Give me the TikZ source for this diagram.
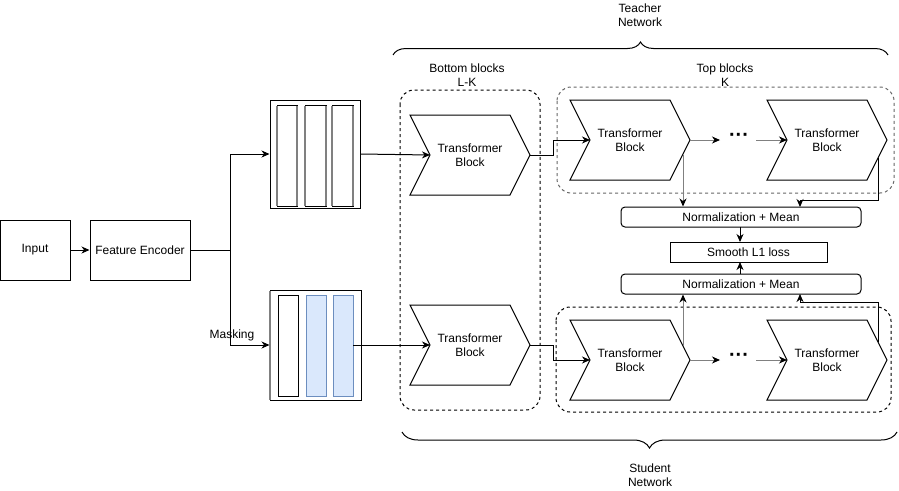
\documentclass[tikz,border=0pt]{standalone}
\usepackage{fontspec}
\setmainfont{Liberation Sans}
\usetikzlibrary{arrows.meta,decorations.pathreplacing,calc}
\definecolor{lgray}{HTML}{808080}
\definecolor{dgray}{HTML}{666666}
\definecolor{bluefill}{HTML}{DAE8FC}
\definecolor{blueline}{HTML}{6C8EBF}
\tikzset{
  box/.style={draw, line width=1pt, inner sep=0pt, align=center},
  rbox/.style={draw, line width=1pt, rounded corners=4pt, inner sep=0pt, align=center},
  conn/.style={line width=1pt, -{Stealth[length=8pt,width=7pt,inset=2.5pt]}},
  gconn/.style={line width=1pt, draw=lgray, -{Stealth[length=8pt,width=7pt,inset=2.5pt,black]}},
  plain/.style={line width=1pt},
  dbox/.style={line width=1pt, dash pattern=on 3pt off 3pt, rounded corners=14pt},
  lbl/.style={align=center, inner sep=0pt},
  chevshape/.style={line width=1pt, fill=white},
}
% chevron block: name, left x, top y
\newcommand\chevblock[3]{%
  \draw[chevshape] (#2,#3) -- ++(100,0) -- ++(20,40) -- ++(-20,40) -- ++(-100,0) -- ++(20,-40) -- cycle;
  \coordinate (#1-tip) at ($(#2,#3)+(120,40)$);
  \coordinate (#1-notch) at ($(#2,#3)+(20,40)$);
  \node[lbl] (#1) at ($(#2,#3)+(60,40)$) {Transformer\\Block};
}
\begin{document}
\begin{tikzpicture}[x=1pt,y=-1pt,font=\fontsize{12}{14.5}\selectfont]
\useasboundingbox (0,0) rectangle (899,490);

% dashed group boxes
\draw[dbox] (400,90) rectangle (540,410);
\draw[dbox, draw=dgray] (557,87) rectangle (894,193);
\draw[dbox] (556,307) rectangle (891,412);

% input and encoder
\node[box, minimum width=70pt, minimum height=60pt] (input) at (35,250) {Input};
\node[box, minimum width=100pt, minimum height=60pt] (enc) at (140,250) {Feature Encoder};

% top stack
\node[box, minimum width=90pt, minimum height=108pt] (stackT) at (315,154) {};
\foreach \x/\w [count=\i] in {277/20,305/21,332/21}{
  \draw[line width=1pt] (\x,105) rectangle ++(\w,101);
  \draw[line width=2pt, lgray] (\x,106) -- (\x,206) (\x+\w,106) -- (\x+\w,206);
}
% bottom stack
\node[box, minimum width=91pt, minimum height=110pt] (stackB) at (315.5,345) {};
\draw[line width=2.5pt, lgray] (270,291) -- (270,400);
\draw[line width=1pt] (278,295) rectangle (298,396);
\draw[line width=1pt, draw=blueline, fill=bluefill] (306,295) rectangle (326,396);
\draw[line width=1pt, draw=blueline, fill=bluefill] (333,295) rectangle (353,396);
\coordinate (stackBout) at (353,345);

% transformer blocks
\chevblock{A}{410}{115}
\chevblock{B}{410}{305}
\chevblock{C}{570}{100}
\chevblock{D}{767}{100}
\chevblock{E}{570}{320}
\chevblock{F}{767}{320}

% dots
\node[lbl, font=\fontsize{20}{20}\selectfont\bfseries] (dotsT) at (739,137) {···};
\node[lbl, font=\fontsize{20}{20}\selectfont\bfseries] (dotsB) at (739,357) {···};

% normalization and loss
\node[rbox, minimum width=240pt, minimum height=20pt] (norm1) at (741,217) {Normalization + Mean};
\node[box, minimum width=157pt, minimum height=20pt] (loss) at (748.5,252) {Smooth L1 loss};
\node[rbox, minimum width=240pt, minimum height=20pt] (norm2) at (741,284) {Normalization + Mean};

% connectors
\coordinate (split) at (230,250);
\draw[conn] (input.east) -- (enc.west);
\draw[plain] (enc.east) -- (split);
\draw[conn] (split) |- (stackT.west);
\draw[conn] (split) |- (stackB.west);
\node[lbl] (mask) at (232,335) {Masking};

\draw[conn] (stackT.east) -- (A-notch);
\draw[conn] (stackBout) -- (B-notch);

\draw[conn] (A-tip) -- ++(23,0) |- (C-notch);
\draw[conn] (B-tip) -- ++(23,0) |- (E-notch);

\draw[gconn] (C-tip) -- (720,140);
\draw[gconn] (756,140) -- (D-notch);
\draw[gconn] (E-tip) -- (720,360);
\draw[gconn] (756,360) -- (F-notch);

\coordinate (c1) at (683,154.7);
\coordinate (d1) at (878,158);
\coordinate (e1) at (683,346);
\coordinate (f1) at (878,342);
\draw[gconn] (c1) -- (c1 |- norm1.north);
\draw[conn] (d1) -- (878,200) -| (800,207);
\draw[gconn] (e1) -- (e1 |- norm2.south);
\draw[conn] (f1) -- (878,302) -| (800,294);

\draw[conn] (740,227) -- (740,242);
\draw[conn] (740,274) -- (740,262);

% braces
\draw[line width=1pt, decorate, decoration={brace, amplitude=13pt}] (393,55) -- (888,55);
\draw[line width=1pt, decorate, decoration={brace, mirror, amplitude=16pt}] (402,432) -- (897,432);

% labels
\node[lbl] (teacher) at (640,15) {Teacher\\Network};
\node[lbl] (student) at (650,475) {Student\\Network};
\node[lbl] (botlbl) at (467,75) {Bottom blocks\\L-K};
\node[lbl] (toplbl) at (725,75) {Top blocks\\K};
\end{tikzpicture}
\end{document}
